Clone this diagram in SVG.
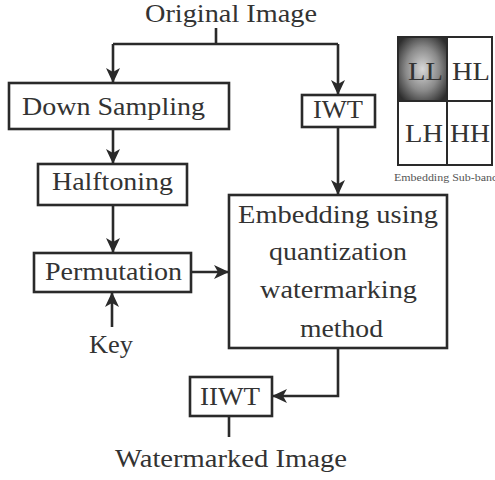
<svg xmlns="http://www.w3.org/2000/svg" width="495" height="480" viewBox="0 0 495 480">
<style>
.box{fill:#fff;stroke:#2a2a2a;stroke-width:2.6}
.ln{fill:none;stroke:#2a2a2a;stroke-width:2.6}
.t{font-family:'Liberation Serif',serif;font-size:25px;fill:#333}
.s{font-family:'Liberation Serif',serif;font-size:10px;fill:#555}
</style>
<defs>
<marker id="ah" markerUnits="userSpaceOnUse" markerWidth="16" markerHeight="14" refX="15" refY="7" orient="auto">
<path d="M0,0 L15,7 L0,14 L4,7 Z" fill="#2a2a2a"/>
</marker>
<radialGradient id="llg" cx="0.5" cy="0.5" r="0.62">
<stop offset="0" stop-color="#d8d8d8"/>
<stop offset="0.55" stop-color="#8a8a8a"/>
<stop offset="1" stop-color="#2e2e2e"/>
</radialGradient>
</defs>
<rect width="495" height="480" fill="#fff"/>
<g id="connectors">
<path class="ln" d="M216,28 V44"/>
<path class="ln" d="M113,44 H338"/>
<path class="ln" d="M113,44 V83" marker-end="url(#ah)"/>
<path class="ln" d="M338,44 V95" marker-end="url(#ah)"/>
<path class="ln" d="M113,129 V164" marker-end="url(#ah)"/>
<path class="ln" d="M113,205 V253" marker-end="url(#ah)"/>
<path class="ln" d="M191,272 H229" marker-end="url(#ah)"/>
<path class="ln" d="M112,327 V292" marker-end="url(#ah)"/>
<path class="ln" d="M338,127 V195" marker-end="url(#ah)"/>
<path class="ln" d="M338,348 V396 H272" marker-end="url(#ah)"/>
<path class="ln" d="M229,416 V437"/>
</g>
<g id="original"><text class="t" x="145" y="22" textLength="172" lengthAdjust="spacingAndGlyphs">Original Image</text></g>
<g id="downsampling">
<rect class="box" x="9" y="83" width="220" height="46"/>
<text class="t" x="22" y="115" textLength="183" lengthAdjust="spacingAndGlyphs">Down Sampling</text>
</g>
<g id="iwt">
<rect class="box" x="302" y="95" width="73" height="32"/>
<text class="t" x="313" y="118" textLength="50" lengthAdjust="spacingAndGlyphs">IWT</text>
</g>
<g id="subbands">
<rect x="398" y="37" width="49" height="64" fill="url(#llg)"/>
<rect x="398" y="37" width="94" height="128" fill="none" stroke="#2a2a2a" stroke-width="2"/>
<path d="M447,37 V165 M398,101 H492" stroke="#2a2a2a" stroke-width="2"/>
<text class="t" x="408" y="80" textLength="35" lengthAdjust="spacingAndGlyphs">LL</text>
<text class="t" x="452" y="80" textLength="38" lengthAdjust="spacingAndGlyphs">HL</text>
<text class="t" x="405" y="142" textLength="38" lengthAdjust="spacingAndGlyphs">LH</text>
<text class="t" x="450" y="142" textLength="40" lengthAdjust="spacingAndGlyphs">HH</text>
<text class="s" x="394" y="181" textLength="104" lengthAdjust="spacingAndGlyphs">Embedding Sub-band</text>
</g>
<g id="halftoning">
<rect class="box" x="38" y="164" width="149" height="41"/>
<text class="t" x="52" y="190" textLength="121" lengthAdjust="spacingAndGlyphs">Halftoning</text>
</g>
<g id="permutation">
<rect class="box" x="34" y="253" width="157" height="39"/>
<text class="t" x="45" y="280" textLength="137" lengthAdjust="spacingAndGlyphs">Permutation</text>
</g>
<g id="key"><text class="t" x="89" y="353" textLength="44" lengthAdjust="spacingAndGlyphs">Key</text></g>
<g id="embedding">
<rect class="box" x="229" y="195" width="218" height="153"/>
<text class="t" x="238" y="223" textLength="200" lengthAdjust="spacingAndGlyphs">Embedding using</text>
<text class="t" x="269" y="260" textLength="138" lengthAdjust="spacingAndGlyphs">quantization</text>
<text class="t" x="260" y="298" textLength="157" lengthAdjust="spacingAndGlyphs">watermarking</text>
<text class="t" x="300" y="337" textLength="83" lengthAdjust="spacingAndGlyphs">method</text>
</g>
<g id="iiwt">
<rect class="box" x="190" y="377" width="82" height="39"/>
<text class="t" x="200" y="405" textLength="60" lengthAdjust="spacingAndGlyphs">IIWT</text>
</g>
<g id="watermarked"><text class="t" x="115" y="467" textLength="232" lengthAdjust="spacingAndGlyphs">Watermarked Image</text></g>
</svg>
